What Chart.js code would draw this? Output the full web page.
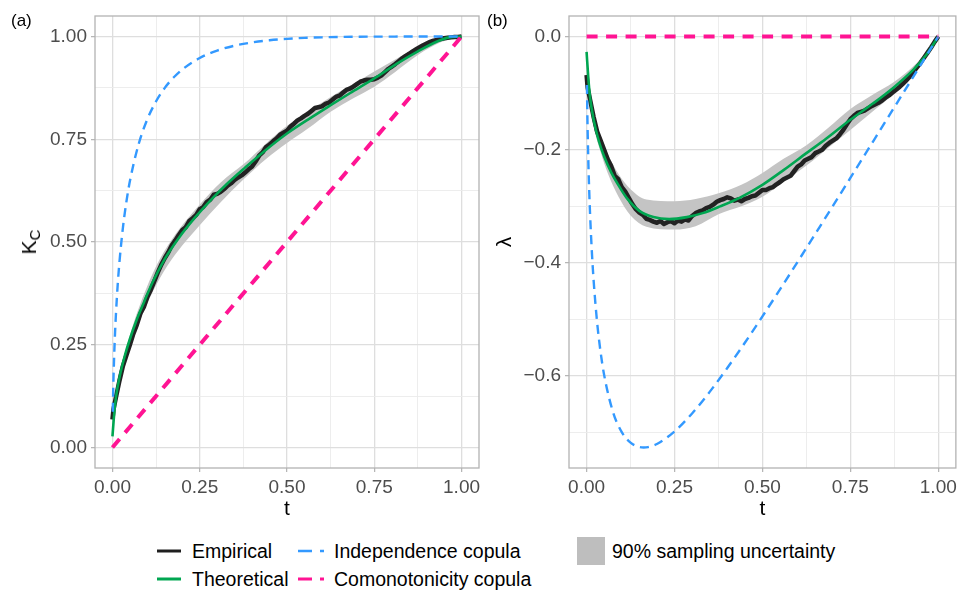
<!DOCTYPE html>
<html>
<head>
<meta charset="UTF-8">
<title>Kendall distribution and lambda function</title>
<script src="https://cdn.jsdelivr.net/npm/chart.js"></script>
<style>
  body { margin:0; width:961px; height:591px; background:#fff; position:relative; overflow:hidden;
         font-family:'Liberation Sans', Arial, sans-serif; }
  .panel { position:absolute; top:0; height:530px; }
  #wrapA { left:0; width:485px; }
  #wrapB { left:485px; width:476px; }
  .tag { position:absolute; top:12px; font-size:17px; line-height:17px; color:#000; }
  #ylabA { position:absolute; left:30px; top:242px; transform:translate(-50%,-50%) rotate(-90deg);
           font-size:21px; white-space:nowrap; color:#000; }
  #ylabA sub { font-size:15px; vertical-align:-4px; }
  .lg { position:absolute; font-size:19.5px; line-height:20px; color:#000; white-space:nowrap; }
  .key { position:absolute; }
</style>
</head>
<body>
<div class="panel" id="wrapA"><canvas id="chartA" width="485" height="530"></canvas></div>
<div class="panel" id="wrapB"><canvas id="chartB" width="476" height="530"></canvas></div>
<div class="tag" style="left:11px">(a)</div>
<div class="tag" style="left:487px">(b)</div>
<div id="ylabA">K<sub>C</sub></div>

<!-- legend -->
<svg class="key" style="left:157px;top:548px" width="24" height="6"><line x1="0" y1="3" x2="24" y2="3" stroke="#1f1f1f" stroke-width="3"/></svg>
<div class="lg" style="left:192px;top:541px">Empirical</div>
<svg class="key" style="left:157px;top:576px" width="24" height="6"><line x1="0" y1="3" x2="24" y2="3" stroke="#00a651" stroke-width="3"/></svg>
<div class="lg" style="left:192px;top:569px">Theoretical</div>
<svg class="key" style="left:298px;top:548px" width="26" height="6"><line x1="0" y1="3" x2="26" y2="3" stroke="#3399ff" stroke-width="2.5" stroke-dasharray="14 8"/></svg>
<div class="lg" style="left:334px;top:541px">Independence copula</div>
<svg class="key" style="left:298px;top:576px" width="26" height="6"><line x1="0" y1="3" x2="26" y2="3" stroke="#ff1493" stroke-width="3" stroke-dasharray="14 8"/></svg>
<div class="lg" style="left:334px;top:569px">Comonotonicity copula</div>
<div class="key" style="left:577px;top:537px;width:28px;height:28px;background:#bebebe"></div>
<div class="lg" style="left:612px;top:541px">90% sampling uncertainty</div>

<script>
// ---- data ----
// empirical curve (black), panel (a) K_C and panel (b) lambda
const tEmp = [0, 0.003, 0.01, 0.02, 0.03, 0.04, 0.05, 0.06, 0.07, 0.08, 0.09, 0.10, 0.11, 0.12, 0.13, 0.14, 0.15, 0.16, 0.17, 0.18, 0.19,
  0.20, 0.21, 0.22, 0.23, 0.24, 0.25, 0.26, 0.27, 0.28, 0.29, 0.30, 0.31, 0.32, 0.33, 0.34, 0.35, 0.36, 0.37, 0.38, 0.39,
  0.40, 0.41, 0.42, 0.43, 0.44, 0.45, 0.46, 0.47, 0.48, 0.49, 0.50, 0.51, 0.52, 0.53, 0.54, 0.55, 0.56, 0.57, 0.58, 0.59,
  0.60, 0.61, 0.62, 0.63, 0.64, 0.65, 0.66, 0.67, 0.68, 0.69, 0.70, 0.71, 0.72, 0.73, 0.74, 0.75, 0.76, 0.77, 0.78, 0.79,
  0.80, 0.81, 0.82, 0.83, 0.84, 0.85, 0.86, 0.87, 0.88, 0.89, 0.90, 0.91, 0.92, 0.93, 0.94, 0.95, 0.96, 0.97, 0.98, 0.99, 1.00];
const kEmp = [0.068, 0.093, 0.122, 0.162, 0.198, 0.224, 0.250, 0.277, 0.299, 0.326, 0.342, 0.366, 0.384, 0.405, 0.426, 0.445, 0.461, 0.475, 0.492, 0.504, 0.517,
  0.529, 0.536, 0.551, 0.558, 0.566, 0.580, 0.585, 0.597, 0.603, 0.615, 0.617, 0.622, 0.629, 0.637, 0.643, 0.651, 0.657, 0.662, 0.669, 0.677,
  0.684, 0.696, 0.710, 0.718, 0.731, 0.737, 0.745, 0.752, 0.761, 0.766, 0.771, 0.781, 0.788, 0.796, 0.801, 0.807, 0.812, 0.819, 0.826, 0.828,
  0.830, 0.836, 0.839, 0.846, 0.853, 0.856, 0.863, 0.870, 0.873, 0.878, 0.884, 0.890, 0.893, 0.895, 0.895, 0.896, 0.900, 0.905, 0.913, 0.921,
  0.927, 0.933, 0.940, 0.947, 0.953, 0.958, 0.964, 0.969, 0.974, 0.979, 0.983, 0.987, 0.990, 0.992, 0.994, 0.996, 0.997, 0.998, 0.999, 0.999, 1.000];
const lamEmp = [-0.068, -0.090, -0.112, -0.142, -0.168, -0.184, -0.200, -0.217, -0.229, -0.246, -0.252, -0.266, -0.274, -0.285, -0.296, -0.305, -0.311, -0.315, -0.322, -0.324, -0.327,
  -0.329, -0.326, -0.331, -0.328, -0.326, -0.330, -0.325, -0.327, -0.323, -0.325, -0.317, -0.312, -0.309, -0.307, -0.303, -0.301, -0.297, -0.292, -0.289, -0.287,
  -0.284, -0.286, -0.290, -0.288, -0.291, -0.287, -0.285, -0.282, -0.281, -0.276, -0.271, -0.271, -0.268, -0.266, -0.261, -0.257, -0.252, -0.249, -0.246, -0.238,
  -0.230, -0.226, -0.219, -0.216, -0.213, -0.206, -0.203, -0.200, -0.193, -0.188, -0.184, -0.180, -0.173, -0.165, -0.155, -0.146, -0.140, -0.135, -0.133, -0.131,
  -0.127, -0.123, -0.120, -0.117, -0.113, -0.108, -0.104, -0.099, -0.094, -0.089, -0.083, -0.077, -0.070, -0.062, -0.054, -0.046, -0.037, -0.028, -0.019, -0.009, 0];

// theoretical curve (green)
const tTh = [0, 0.005, 0.01, 0.02, 0.035, 0.05, 0.07, 0.09, 0.115, 0.15, 0.19, 0.235, 0.285, 0.33, 0.38, 0.435, 0.5, 0.56, 0.625, 0.68, 0.75, 0.815, 0.875, 0.93, 0.965, 1];
const kTh = [0.027, 0.082, 0.122, 0.170, 0.222, 0.264, 0.312, 0.353, 0.402, 0.459, 0.510, 0.558, 0.605, 0.643, 0.681, 0.721, 0.764, 0.798, 0.833, 0.862, 0.898, 0.934, 0.964, 0.988, 0.998, 1];
const lamTh = [-0.027, -0.074, -0.108, -0.147, -0.185, -0.212, -0.240, -0.262, -0.286, -0.308, -0.319, -0.3225, -0.319, -0.312, -0.300, -0.285, -0.262, -0.236, -0.206, -0.181, -0.147, -0.118, -0.089, -0.058, -0.033, 0];

// 90% sampling uncertainty band
const tBand = [0, 0.01, 0.02, 0.04, 0.06, 0.09, 0.125, 0.17, 0.25, 0.31, 0.375, 0.44, 0.5, 0.56, 0.625, 0.69, 0.75, 0.81, 0.875, 0.94, 1];
const kBandHi = [0.032, 0.126, 0.178, 0.244, 0.301, 0.372, 0.441, 0.506, 0.591, 0.645, 0.689, 0.740, 0.783, 0.817, 0.853, 0.885, 0.915, 0.944, 0.975, 0.998, 1];
const kBandLo = [0.022, 0.110, 0.156, 0.216, 0.267, 0.332, 0.395, 0.458, 0.541, 0.597, 0.652, 0.702, 0.741, 0.776, 0.817, 0.850, 0.878, 0.914, 0.955, 0.986, 1];
const lamBandHi = [-0.022, -0.100, -0.136, -0.176, -0.207, -0.242, -0.270, -0.288, -0.291, -0.287, -0.277, -0.262, -0.241, -0.216, -0.192, -0.160, -0.128, -0.104, -0.080, -0.046, 0];
const lamBandLo = [-0.032, -0.116, -0.158, -0.204, -0.241, -0.282, -0.316, -0.336, -0.341, -0.335, -0.314, -0.300, -0.283, -0.257, -0.228, -0.195, -0.165, -0.134, -0.100, -0.058, 0];

// independence copula (blue dashed)
const tInd = [0.001, 0.002, 0.003, 0.005, 0.0075, 0.01, 0.015, 0.02, 0.03, 0.04, 0.05, 0.075, 0.1, 0.125, 0.15, 0.1625, 0.175, 0.2, 0.25,
  0.3, 0.35, 0.4, 0.45, 0.5, 0.55, 0.6, 0.65, 0.7, 0.75, 0.8, 0.85, 0.9, 0.95, 1];
const kInd = [0.0867, 0.1331, 0.1691, 0.2256, 0.2804, 0.3249, 0.3955, 0.4508, 0.5352, 0.5983, 0.6482, 0.7381, 0.7989, 0.8425, 0.8752, 0.8886, 0.9003, 0.9199, 0.9478,
  0.9659, 0.9778, 0.9857, 0.9910, 0.9944, 0.9967, 0.9981, 0.9990, 0.9995, 0.9998, 0.9999, 1.0, 1.0, 1.0, 1];
const lamInd = [-0.0857, -0.1311, -0.1661, -0.2206, -0.2729, -0.3149, -0.3805, -0.4308, -0.5052, -0.5583, -0.5982, -0.6631, -0.6989, -0.7175, -0.7252, -0.7261, -0.7253, -0.7199, -0.6978,
  -0.6659, -0.6278, -0.5857, -0.5410, -0.4944, -0.4467, -0.3981, -0.3490, -0.2995, -0.2498, -0.1999, -0.1500, -0.1000, -0.0500, 0];

// comonotonicity copula (pink dashed)
const tCom = [0, 1];
const kCom = [0, 1];
const lamCom = [0, 0];

// axes
const xMajor = [0, 0.25, 0.5, 0.75, 1];
const xLabels = ['0.00', '0.25', '0.50', '0.75', '1.00'];
const xMinor = [0.125, 0.375, 0.625, 0.875];
const yMajorA = [0, 0.25, 0.5, 0.75, 1];
const yLabelsA = ['0.00', '0.25', '0.50', '0.75', '1.00'];
const yMinorA = [0.125, 0.375, 0.625, 0.875];
const yMajorB = [-0.6, -0.4, -0.2, 0];
const yLabelsB = ['\u22120.6', '\u22120.4', '\u22120.2', '0.0'];
const yMinorB = [-0.7, -0.5, -0.3, -0.1];

const FONT = "'Liberation Sans', Arial, sans-serif";
const pts = (xs, ys) => xs.map((x, i) => ({x: x, y: ys[i]}));

function axis(min, max, major, labels, minor, size, title) {
  const all = major.concat(minor).sort((a, b) => a - b);
  const idx = v => major.findIndex(m => Math.abs(m - v) < 1e-9);
  const isMajor = c => c.tick && idx(c.tick.value) >= 0;
  return {
    type: 'linear', min: min, max: max,
    afterBuildTicks: s => { s.ticks = all.map(v => ({value: v})); },
    afterFit: s => { if (s.isHorizontal()) s.height = size; else s.width = size; },
    ticks: {
      autoSkip: false, maxRotation: 0, minRotation: 0, padding: 4,
      color: '#4d4d4d', font: {family: FONT, size: 19},
      callback: v => { const i = idx(v); return i < 0 ? '' : labels[i]; }
    },
    grid: {
      color: c => isMajor(c) ? '#dedede' : '#ebebeb',
      lineWidth: c => isMajor(c) ? 1.3 : 0.9,
      tickLength: 4,
      tickColor: c => isMajor(c) ? '#b3b3b3' : 'rgba(0,0,0,0)',
      tickWidth: 1.2
    },
    border: {display: false},
    title: title
  };
}

const frame = {
  id: 'frame',
  afterDatasetsDraw(chart) {
    const a = chart.chartArea, ctx = chart.ctx;
    ctx.save();
    ctx.strokeStyle = '#b3b3b3';
    ctx.lineWidth = 1.3;
    ctx.strokeRect(a.left, a.top, a.right - a.left, a.bottom - a.top);
    ctx.restore();
  }
};

function datasets(emp, th, hi, lo, ind, com) {
  return [
    {data: pts(tCom, com), borderColor: '#ff1493', borderWidth: 4, borderDash: [11, 8.5], pointRadius: 0, order: 1},
    {data: pts(tInd, ind), borderColor: '#3399ff', borderWidth: 2.4, borderDash: [9, 6], pointRadius: 0, cubicInterpolationMode: 'monotone', order: 2},
    {data: pts(tTh, th), borderColor: '#00a651', borderWidth: 2.6, pointRadius: 0, cubicInterpolationMode: 'monotone', order: 3},
    {data: pts(tEmp, emp), borderColor: '#222222', borderWidth: 4.5, borderJoinStyle: 'round', pointRadius: 0, order: 4},
    {data: pts(tBand, hi), borderWidth: 0, borderColor: 'rgba(0,0,0,0)', backgroundColor: '#c4c4c4', fill: '+1', pointRadius: 0, cubicInterpolationMode: 'monotone', order: 5},
    {data: pts(tBand, lo), borderWidth: 0, borderColor: 'rgba(0,0,0,0)', pointRadius: 0, cubicInterpolationMode: 'monotone', order: 6}
  ];
}

function makeChart(id, sets, yAxis, rightPad) {
  return new Chart(document.getElementById(id), {
    type: 'line',
    data: {datasets: sets},
    options: {
      responsive: false, animation: false, devicePixelRatio: 1,
      layout: {padding: {top: 16, right: rightPad, left: 0, bottom: 0}},
      plugins: {legend: {display: false}, tooltip: {enabled: false}},
      scales: {
        x: axis(-0.05, 1.05, xMajor, xLabels, xMinor, 62,
          {display: true, text: 't', color: '#000', font: {family: FONT, size: 21}, padding: {top: 0, bottom: 8}}),
        y: yAxis
      }
    },
    plugins: [frame]
  });
}

makeChart('chartA', datasets(kEmp, kTh, kBandHi, kBandLo, kInd, kCom),
  axis(-0.05, 1.05, yMajorA, yLabelsA, yMinorA, 95, {display: false}), 6);
makeChart('chartB', datasets(lamEmp, lamTh, lamBandHi, lamBandLo, lamInd, lamCom),
  axis(-0.7623, 0.0363, yMajorB, yLabelsB, yMinorB, 84,
    {display: true, text: '\u03bb', color: '#000', font: {family: FONT, size: 21}, padding: {top: 8, bottom: 0}}), 5);
</script>
</body>
</html>
